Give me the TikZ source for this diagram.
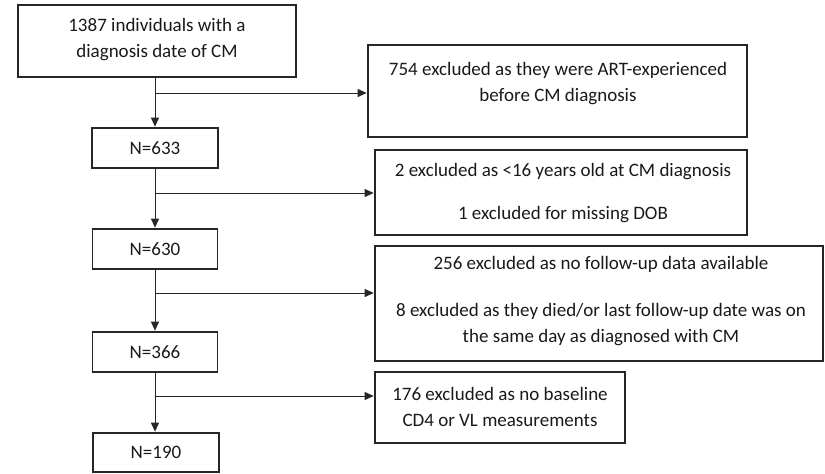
\documentclass[tikz,border=0pt]{standalone}
\usepackage{fontspec}
\setmainfont{Carlito}
\usetikzlibrary{arrows.meta}
\begin{document}
\begin{tikzpicture}[x=1pt,y=-1pt,
  box/.style={draw=black!85, line width=1.5pt, inner sep=0pt},
  txt/.style={font=\fontsize{19}{26}\selectfont, align=center, inner sep=0pt, text=black!90},
  arr/.style={draw=black!85, line width=0.9pt, -{Triangle[length=9pt,width=8pt]}, shorten >=0.6pt}]
\useasboundingbox (0,0) rectangle (825,474);
% main column
\node[box, minimum width=278pt, minimum height=72pt] (b1) at (157,41) {};
\node[txt] (t1) at (157,40) {1387 individuals with a\\diagnosis date of CM};
\node[box, txt, minimum width=126pt, minimum height=40pt] (n1) at (155,148) {N=633};
\node[box, txt, minimum width=125pt, minimum height=40pt] (n2) at (155,249) {N=630};
\node[box, txt, minimum width=125pt, minimum height=40pt] (n3) at (155,352) {N=366};
\node[box, txt, minimum width=126pt, minimum height=39pt] (n4) at (156,452.5) {N=190};
% exclusion boxes
\node[box, minimum width=379pt, minimum height=92pt] (e1) at (557.5,91) {};
\node[txt] (te1) at (558,83.5) {754 excluded as they were ART-experienced\\before CM diagnosis};
\node[box, minimum width=372pt, minimum height=85pt] (e2) at (561,192.5) {};
\node[txt] (te2) at (563,193.5) {2 excluded as <16 years old at CM diagnosis\\[17pt]1 excluded for missing DOB};
\node[box, minimum width=448pt, minimum height=115pt] (e3) at (599,303.5) {};
\node[txt] (te3) at (601,301.5) {256 excluded as no follow-up data available\\[21pt]8 excluded as they died/or last follow-up date was on\\the same day as diagnosed with CM};
\node[box, minimum width=250pt, minimum height=71pt] (e4) at (500,407.5) {};
\node[txt] (te4) at (500,406.5) {176 excluded as no baseline\\CD4 or VL measurements};
% connectors
\coordinate (j1) at (155,93);
\coordinate (j2) at (155,193);
\coordinate (j3) at (155,293);
\coordinate (j4) at (155,396);
\draw[arr] (b1.south -| n1.north) -- (n1.north);
\draw[arr] (n1.south) -- (n2.north);
\draw[arr] (n2.south) -- (n3.north);
\draw[arr] (n3.south) -- (n3.south |- n4.north);
\draw[arr] (j1) -- (j1 -| e1.west);
\draw[arr] (j2) -- (j2 -| e2.west);
\draw[arr] (j3) -- (j3 -| e3.west);
\draw[arr] (j4) -- (j4 -| e4.west);
\end{tikzpicture}
\end{document}
